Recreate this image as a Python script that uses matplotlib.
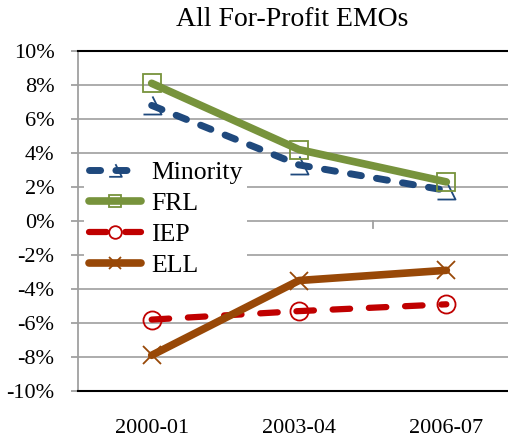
import matplotlib
matplotlib.use("Agg")
import matplotlib.pyplot as plt
import numpy as np
from matplotlib.path import Path

categories = ["2000-01", "2003-04", "2006-07"]
minority = [6.8, 3.3, 1.8]
frl = [8.1, 4.2, 2.3]
iep = [-5.8, -5.3, -4.9]
ell = [-7.9, -3.5, -2.9]
yticks = [-10, -8, -6, -4, -2, 0, 2, 4, 6, 8, 10]

plt.rcParams['font.family'] = ['Liberation Serif', 'DejaVu Serif']

W, H = 508, 441
fig = plt.figure(figsize=(W / 100, H / 100), dpi=100)
# plot area runs past the right edge of the picture, as in the original
ax = fig.add_axes([78 / W, 1 - 391 / H, (520 - 78) / W, (391 - 51) / H])

x = np.arange(len(categories))

# open triangle missing its left side (Excel-ish marker)
tri = Path([(0, 1), (1, -1), (-1, -1)], [Path.MOVETO, Path.LINETO, Path.LINETO])

ax.plot(x, minority, color='#1F497D', lw=5, dashes=(1.6, 2.2), dash_capstyle='round',
        marker=tri, ms=13, mfc='none', mec='#1F497D', mew=1.3, label='Minority')
ax.plot(x, frl, color='#77933C', lw=5.5, solid_capstyle='round',
        marker='s', ms=13, mfc='none', mec='#77933C', mew=1.3, label='FRL')
ax.plot(x, iep, color='#C00000', lw=4.5, dashes=(2.8, 3.0), dash_capstyle='round',
        marker='o', ms=13, mfc='none', mec='#C00000', mew=1.3, label='IEP')
ax.plot(x, ell, color='#984807', lw=5.5, solid_capstyle='round',
        marker='x', ms=13, mec='#984807', mew=1.3, label='ELL')

ax.set_xlim(-0.5, 2.5)
ax.set_ylim(-10, 10)
ax.set_yticks(yticks)
ax.set_yticklabels([f"{v}%" for v in yticks], fontsize=16)
ax.set_xticks(x)
ax.set_xticklabels(categories, fontsize=16)
ax.tick_params(axis='x', length=0, pad=20)
ax.tick_params(axis='y', length=5, width=1.3, color='#A0A0A0', pad=12)

ax.grid(axis='y', color='#A6A6A6', lw=1.3)
ax.set_axisbelow(True)
for s in ['top', 'bottom']:
    ax.spines[s].set_color('black')
    ax.spines[s].set_linewidth(1.5)
ax.spines['left'].set_color('#A0A0A0')
ax.spines['left'].set_linewidth(1.3)
ax.spines['right'].set_visible(False)

# category separator ticks on the 0% axis line
for xb in [0.5, 1.5]:
    ax.plot([xb, xb], [0, -0.4], color='#A0A0A0', lw=1.3, zorder=1)

leg = ax.legend(loc='upper left', bbox_to_anchor=(84 / W, 1 - 156 / H),
                bbox_transform=fig.transFigure, fontsize=18.5, frameon=True,
                facecolor='white', edgecolor='none', framealpha=1, fancybox=False,
                handlelength=2.0, handletextpad=0.4, labelspacing=0.31,
                borderpad=0.2, borderaxespad=0, markerscale=0.7)

fig.text(292 / W, 1 - 20 / H, "All For-Profit EMOs", fontsize=20, ha='center', va='center')

fig.savefig("out.png", dpi=100)
